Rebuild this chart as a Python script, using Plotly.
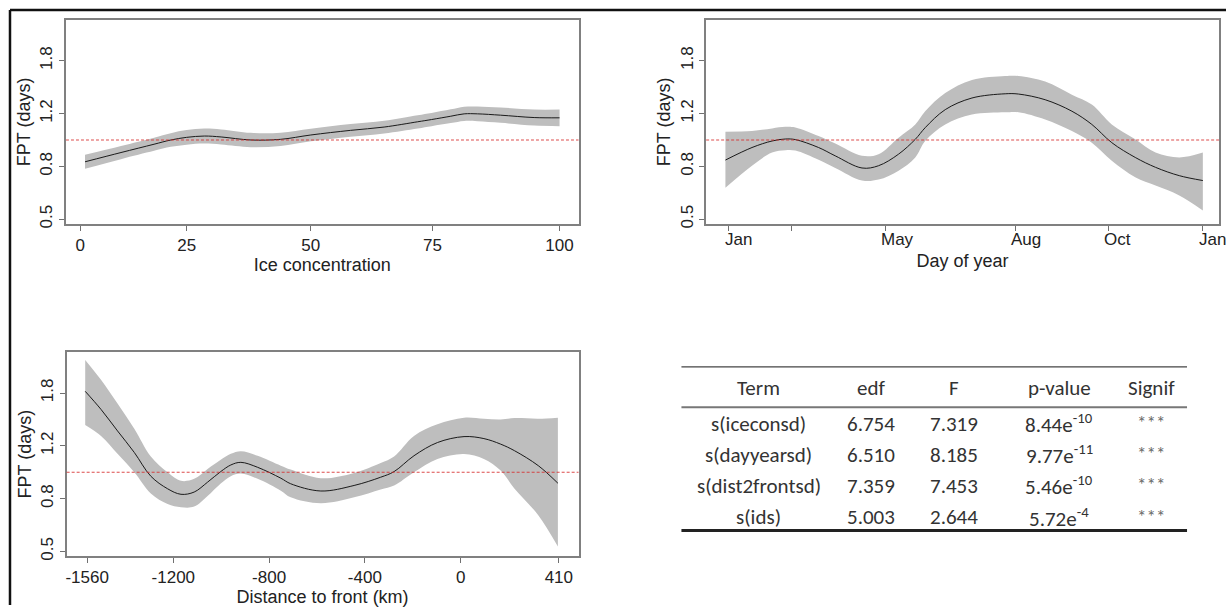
import plotly.graph_objects as go

W, H = 1226, 610

# ---- panel 1: ice concentration (x in axis position units, y on link scale)
ice_x = [1.0, 8.5, 15.4, 18.9, 22.2, 25.9, 29.4, 35.6, 41.8, 48.1, 56.4, 63.4, 70.4, 73.3, 77.3, 80.1, 82.9, 87.7, 94.7, 100]
ice_fit = [-0.165, -0.095, -0.032, 0.0, 0.020, 0.030, 0.023, 0.0, 0.005, 0.038, 0.073, 0.098, 0.138, 0.155, 0.180, 0.198, 0.198, 0.188, 0.170, 0.168]
ice_lo = [-0.218, -0.145, -0.082, -0.052, -0.035, -0.027, -0.034, -0.054, -0.045, -0.010, 0.025, 0.050, 0.088, 0.105, 0.128, 0.144, 0.142, 0.130, 0.109, 0.105]
ice_hi = [-0.112, -0.045, 0.018, 0.052, 0.075, 0.087, 0.080, 0.054, 0.055, 0.086, 0.121, 0.146, 0.188, 0.205, 0.232, 0.252, 0.254, 0.246, 0.231, 0.231]
ice_tickvals = [0, 22.2, 48.1, 73.5, 100]
ice_ticktext = ["0", "25", "50", "75", "100"]

# ---- panel 2: day of year
day_x = [-1.5, 18.9, 34.3, 44.5, 52.2, 70, 82.8, 103.3, 116, 131.4, 144.2, 151.8, 167.2, 187.7, 213.2, 223.4, 243.9, 264.4, 279.7, 295, 313, 328.6, 346.8, 364.9]
day_fit = [-0.152, -0.057, -0.0075, 0.0075, 0.003, -0.057, -0.12, -0.212, -0.195, -0.107, 0.005, 0.093, 0.23, 0.318, 0.35, 0.348, 0.305, 0.218, 0.118, -0.02, -0.132, -0.207, -0.27, -0.307]
day_lo = [-0.362, -0.195, -0.095, -0.077, -0.08, -0.15, -0.212, -0.307, -0.30, -0.232, -0.132, -0.0075, 0.118, 0.193, 0.21, 0.21, 0.155, 0.068, -0.02, -0.157, -0.282, -0.345, -0.42, -0.533]
day_hi = [0.063, 0.068, 0.088, 0.10, 0.095, 0.03, -0.027, -0.12, -0.107, 0.018, 0.118, 0.218, 0.356, 0.455, 0.485, 0.485, 0.443, 0.343, 0.268, 0.118, 0.005, -0.095, -0.132, -0.095]
day_tickvals = [1, 49.6, 121.2, 220.9, 292.4, 365]
day_ticktext = ["Jan", "", "May", "Aug", "Oct", "Jan"]

# ---- panel 3: distance to front (km)
dist_x = [-1568, -1502, -1433, -1363, -1294, -1224, -1168, -1113, -1057, -1002, -960, -918, -848, -751, -710, -584, -445, -334, -278, -195, -97, 14, 97, 167, 225, 324, 406]
dist_fit = [0.613, 0.476, 0.313, 0.15, -0.03, -0.125, -0.167, -0.15, -0.075, 0.005, 0.055, 0.075, 0.0375, -0.045, -0.087, -0.142, -0.1, -0.0375, 0.005, 0.125, 0.225, 0.27, 0.255, 0.213, 0.163, 0.05, -0.083]
dist_lo = [0.358, 0.275, 0.14, 0.0, -0.16, -0.24, -0.265, -0.26, -0.18, -0.085, -0.03, -0.01, -0.05, -0.14, -0.19, -0.235, -0.19, -0.13, -0.1, 0.0, 0.1, 0.138, 0.1, 0.0125, -0.125, -0.325, -0.563]
dist_hi = [0.851, 0.70, 0.52, 0.33, 0.12, 0.0, -0.065, -0.05, 0.025, 0.095, 0.14, 0.16, 0.125, 0.05, 0.02, -0.045, -0.005, 0.07, 0.12, 0.275, 0.363, 0.413, 0.405, 0.40, 0.41, 0.405, 0.413]
dist_tickvals = [-1560, -1200, -800, -400, 0, 410]
dist_ticktext = ["-1560", "-1200", "-800", "-400", "0", "410"]

# y axis ticks (log scale values, labelled in days)
fpt_tickvals = [-0.6, -0.2, 0.2, 0.6]
fpt_ticktext = ["0.5", "0.8", "1.2", "1.8"]

# ---- table
tbl_header = ["Term", "edf", "F", "p-value", "Signif"]
tbl_terms = ["s(iceconsd)", "s(dayyearsd)", "s(dist2frontsd)", "s(ids)"]
tbl_edf = [6.754, 6.510, 7.359, 5.003]
tbl_f = [7.319, 8.185, 7.453, 2.644]
tbl_p_mant = [8.44, 9.77, 5.46, 5.72]
tbl_p_exp = [-10, -11, -10, -4]
tbl_signif = ["***", "***", "***", "***"]

AXFONT = "Arial, Liberation Sans, sans-serif"
TBLFONT = "Carlito, Lato, sans-serif"

fig = go.Figure()


def add_panel(n, x, fit, lo, hi):
	xa = "x" if n == 1 else "x%d" % n
	ya = "y" if n == 1 else "y%d" % n
	fig.add_trace(go.Scatter(x=x, y=hi, mode="lines", line=dict(width=0, shape="spline"),
		xaxis=xa, yaxis=ya, hoverinfo="skip", showlegend=False))
	fig.add_trace(go.Scatter(x=x, y=lo, mode="lines", line=dict(width=0, shape="spline"),
		fill="tonexty", fillcolor="#bebebe", xaxis=xa, yaxis=ya, hoverinfo="skip", showlegend=False))
	fig.add_trace(go.Scatter(x=x, y=fit, mode="lines", line=dict(color="#1a1a1a", width=1, shape="spline"),
		xaxis=xa, yaxis=ya, showlegend=False))
	# reference line at FPT = 1
	fig.add_shape(type="line", xref=xa + " domain", yref=ya, x0=0, x1=1, y0=0, y1=0,
		line=dict(color="rgba(215,45,45,0.85)", width=1.2, dash="3px,2px"))


add_panel(1, ice_x, ice_fit, ice_lo, ice_hi)
add_panel(2, day_x, day_fit, day_lo, day_hi)
add_panel(3, dist_x, dist_fit, dist_lo, dist_hi)

common_x = dict(showline=True, mirror=True, linecolor="#808080", linewidth=1.5, ticks="outside",
	ticklen=5, tickcolor="#707070", showgrid=False, zeroline=False,
	tickfont=dict(family=AXFONT, size=17, color="#222"),
	title_font=dict(family=AXFONT, size=18, color="#222"), title_standoff=0)
common_y = dict(showline=True, mirror=True, linecolor="#808080", linewidth=1.5, ticks="outside",
	ticklen=5, tickcolor="#707070", showgrid=False, zeroline=False,
	tickvals=fpt_tickvals, ticktext=fpt_ticktext, tickangle=-90, range=[-0.635, 0.91],
	tickfont=dict(family=AXFONT, size=17, color="#222"),
	title=dict(text="FPT (days)", font=dict(family=AXFONT, size=18, color="#222"), standoff=2))

fig.update_layout(
	width=W, height=H, autosize=False,
	margin=dict(l=0, r=0, t=0, b=0),
	paper_bgcolor="white", plot_bgcolor="white",
	xaxis=dict(common_x, domain=[65 / W, 578 / W], anchor="y", range=[-2.98, 103.96],
		tickvals=ice_tickvals, ticktext=ice_ticktext, title_text="Ice concentration"),
	yaxis=dict(common_y, domain=[1 - 225.7 / H, 1 - 20 / H], anchor="x"),
	xaxis2=dict(common_x, domain=[705.7 / W, 1219 / W], anchor="y2", range=[-16.3, 377.3],
		tickvals=day_tickvals, showticklabels=False, title_text="Day of year", title_standoff=25),
	yaxis2=dict(common_y, domain=[1 - 225.7 / H, 1 - 20 / H], anchor="x2"),
	xaxis3=dict(common_x, domain=[65.7 / W, 578 / W], anchor="y3", range=[-1645.5, 492.2],
		tickvals=dist_tickvals, ticktext=dist_ticktext, title_text="Distance to front (km)"),
	yaxis3=dict(common_y, domain=[1 - 560.7 / H, 1 - 355 / H], anchor="x3"),
)

ann = []
# month labels, left-aligned at their ticks
for v, t in zip(day_tickvals, day_ticktext):
	if t:
		ann.append(dict(x=v, xref="x2", y=1 - 241 / H, yref="paper", text=t, showarrow=False,
			xanchor="left", yanchor="middle", xshift=-6,
			font=dict(family=AXFONT, size=17, color="#222")))

# table
col_x = [758.2, 871.2, 954.2, 1058.9, 1151]
row_y = [427.3, 458.3, 490, 521.7]
tfont = dict(family=TBLFONT, size=21, color="#333")
for cx, h in zip(col_x, tbl_header):
	ann.append(dict(x=cx / W, y=1 - 391.7 / H, xref="paper", yref="paper", text=h, showarrow=False,
		xanchor="center", yanchor="middle", font=tfont))
for i in range(len(tbl_terms)):
	cells = [tbl_terms[i], "%.3f" % tbl_edf[i], "%.3f" % tbl_f[i],
		"%.2fe<sup>%d</sup>" % (tbl_p_mant[i], tbl_p_exp[i])]
	for cx, c in zip(col_x, cells):
		ann.append(dict(x=cx / W, y=1 - row_y[i] / H, xref="paper", yref="paper", text=c, showarrow=False,
			xanchor="center", yanchor="middle", font=tfont))
	ann.append(dict(x=col_x[4] / W, y=1 - (row_y[i] - 1) / H, xref="paper", yref="paper", text=tbl_signif[i],
		showarrow=False, xanchor="center", yanchor="middle", font=dict(family=TBLFONT, size=19, color="#666")))
fig.update_layout(annotations=ann)

shapes = [
	dict(type="line", xref="paper", yref="paper", x0=681 / W, x1=1187 / W, y0=1 - 370 / H, y1=1 - 370 / H,
		line=dict(color="#444", width=1.2)),
	dict(type="line", xref="paper", yref="paper", x0=681 / W, x1=1187 / W, y0=1 - 410.7 / H, y1=1 - 410.7 / H,
		line=dict(color="#777", width=2)),
	dict(type="line", xref="paper", yref="paper", x0=681 / W, x1=1187 / W, y0=1 - 535 / H, y1=1 - 535 / H,
		line=dict(color="#222", width=3)),
	# outer frame (left and top edges)
	dict(type="line", xref="paper", yref="paper", x0=9 / W, x1=9 / W, y0=0, y1=1 - 10 / H,
		line=dict(color="#111", width=2.5)),
	dict(type="line", xref="paper", yref="paper", x0=9 / W, x1=1, y0=1 - 10 / H, y1=1 - 10 / H,
		line=dict(color="#111", width=2.5)),
]
for s in shapes:
	fig.add_shape(s)

# page body has an 8px margin by default; drop it so the figure fills the window
fig.write_html("out.html", config={"displayModeBar": False},
	post_script="document.body.style.margin='0';")
